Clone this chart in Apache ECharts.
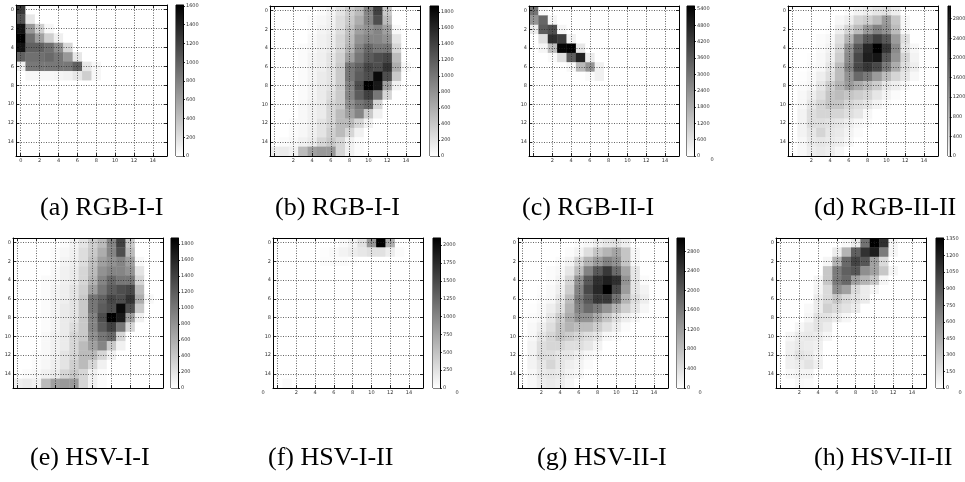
<!DOCTYPE html>
<html><head><meta charset="utf-8">
<script src="https://cdn.jsdelivr.net/npm/echarts@6/dist/echarts.min.js"></script>
<style>html,body{margin:0;padding:0;background:#fff}#c{width:965px;height:482px}</style>
</head><body><div id="c"></div>
<script>
// ---------- tick labels ----------
const gridTicks = [0,2,4,6,8,10,12,14];
const xLabelsFull = [0,2,4,6,8,10,12,14];
const xLabelsNoZero = [2,4,6,8,10,12,14];
const xLabelsNone = [];
const yLabels = [0,2,4,6,8,10,12,14];
const cbTicksA = [0,200,400,600,800,1000,1200,1400,1600];
const cbTicksB = [0,200,400,600,800,1000,1200,1400,1600,1800];
const cbTicksC = [0,600,1200,1800,2400,3000,3600,4200,4800,5400];
const cbTicksD = [0,400,800,1200,1600,2000,2400,2800];
const cbTicksE = [0,200,400,600,800,1000,1200,1400,1600,1800];
const cbTicksF = [0,250,500,750,1000,1250,1500,1750,2000];
const cbTicksG = [0,400,800,1200,1600,2000,2400,2800];
const cbTicksH = [0,150,300,450,600,750,900,1050,1200,1350];
const colorMax = [1610, 1875, 5510, 3060, 1875, 2100, 3080, 1360];
const captions = ['(a) RGB-I-I','(b) RGB-I-I','(c) RGB-II-I','(d) RGB-II-II','(e) HSV-I-I','(f) HSV-I-II','(g) HSV-II-I','(h) HSV-II-II'];

// ---------- histogram values (row = y bin 0..15, column = x bin 0..15) ----------
const histA = [
 [1250,0,0,0,0,0,0,0,0,0,0,0,0,0,0,0],
 [1100,150,0,0,0,0,0,0,0,0,0,0,0,0,0,0],
 [1500,650,300,50,0,0,0,0,0,0,0,0,0,0,0,0],
 [1610,900,600,300,100,0,0,0,0,0,0,0,0,0,0,0],
 [1500,1000,1000,900,700,250,0,0,0,0,0,0,0,0,0,0],
 [1000,900,900,950,850,650,150,0,0,0,0,0,0,0,0,0],
 [100,850,850,850,850,850,1000,150,50,0,0,0,0,0,0,0],
 [0,50,50,50,60,80,150,300,50,0,0,0,0,0,0,0],
 [0,0,0,0,0,0,0,0,0,0,0,0,0,0,0,0],
 [0,0,0,0,0,0,0,0,0,0,0,0,0,0,0,0],
 [0,0,0,0,0,0,0,0,0,0,0,0,0,0,0,0],
 [0,0,0,0,0,0,0,0,0,0,0,0,0,0,0,0],
 [0,0,0,0,0,0,0,0,0,0,0,0,0,0,0,0],
 [0,0,0,0,0,0,0,0,0,0,0,0,0,0,0,0],
 [0,0,0,0,0,0,0,0,0,0,0,0,0,0,0,0],
 [0,0,0,0,0,0,0,0,0,0,0,0,0,0,0,0]
];
const histB = [
 [0,0,0,0,0,30,80,200,350,500,900,1400,400,0,0,0],
 [0,0,0,0,30,60,100,250,400,600,900,1300,500,0,0,0],
 [0,0,0,0,30,80,120,250,450,700,800,900,700,50,0,0],
 [0,0,0,0,50,100,150,300,500,800,900,900,800,200,0,0],
 [0,0,0,30,60,100,150,300,550,900,1100,1000,1000,300,0,0],
 [0,0,0,30,80,120,200,350,700,1000,1200,1300,1350,500,0,0],
 [0,0,0,30,80,120,200,400,1000,1150,1350,1300,1500,600,50,0],
 [0,0,0,30,80,150,200,400,1000,1200,1300,1800,1300,400,0,0],
 [0,0,0,30,80,150,200,400,900,1300,1875,1700,700,100,0,0],
 [0,0,0,30,80,150,250,400,900,1200,1400,1000,300,0,0,0],
 [0,0,0,50,100,150,300,400,800,1000,1100,300,0,0,0,0],
 [0,0,0,50,100,150,300,500,700,900,400,100,0,0,0,0],
 [0,0,30,50,100,200,300,500,500,300,100,0,0,0,0,0],
 [0,0,30,60,120,200,350,500,300,100,0,0,0,0,0,0],
 [0,30,50,100,150,300,400,300,100,30,0,0,0,0,0,0],
 [120,150,100,500,700,750,750,300,100,30,0,0,0,0,0,0]
];
const histC = [
 [3000,100,0,0,0,0,0,0,0,0,0,0,0,0,0,0],
 [2300,3300,200,0,0,0,0,0,0,0,0,0,0,0,0,0],
 [400,3500,3800,200,0,0,0,0,0,0,0,0,0,0,0,0],
 [0,700,4500,4200,250,0,0,0,0,0,0,0,0,0,0,0],
 [0,200,1400,5400,5510,500,0,0,0,0,0,0,0,0,0,0],
 [0,0,100,700,3500,4800,400,0,0,0,0,0,0,0,0,0],
 [0,0,0,0,150,1500,2300,300,0,0,0,0,0,0,0,0],
 [0,0,0,0,0,0,100,300,0,0,0,0,0,0,0,0],
 [0,0,0,0,0,0,0,0,0,0,0,0,0,0,0,0],
 [0,0,0,0,0,0,0,0,0,0,0,0,0,0,0,0],
 [0,0,0,0,0,0,0,0,0,0,0,0,0,0,0,0],
 [0,0,0,0,0,0,0,0,0,0,0,0,0,0,0,0],
 [0,0,0,0,0,0,0,0,0,0,0,0,0,0,0,0],
 [0,0,0,0,0,0,0,0,0,0,0,0,0,0,0,0],
 [0,0,0,0,0,0,0,0,0,0,0,0,0,0,0,0],
 [0,0,0,0,0,0,0,0,0,0,0,0,0,0,0,0]
];
const histD = [
 [0,0,0,0,0,0,50,150,200,300,350,200,0,0,0,0],
 [0,0,0,0,0,100,200,500,600,800,1200,700,100,0,0,0],
 [0,0,0,0,30,200,500,800,1200,1500,1300,800,100,0,0,0],
 [0,0,0,50,100,400,900,1600,2000,2300,2000,1200,400,0,0,0],
 [0,0,0,60,150,500,1300,2000,2600,3060,2400,1400,300,100,0,0],
 [0,0,30,80,200,600,1400,2200,2700,2800,2000,1300,500,150,0,0],
 [0,0,50,100,300,800,1500,2200,2400,2200,1600,1000,400,200,0,0],
 [0,30,80,200,400,800,1300,1800,1600,1200,800,500,300,100,0,0],
 [0,50,100,300,600,900,1200,1000,800,600,300,200,100,0,0,0],
 [0,80,200,400,700,800,700,600,500,300,150,50,0,0,0,0],
 [0,100,300,500,700,700,500,400,300,150,50,0,0,0,0,0],
 [0,150,400,500,500,500,400,300,100,0,0,0,0,0,0,0],
 [0,150,400,400,350,300,200,100,50,0,0,0,0,0,0,0],
 [0,150,300,500,300,250,150,50,0,0,0,0,0,0,0,0],
 [0,100,250,300,250,200,100,0,0,0,0,0,0,0,0,0],
 [0,80,200,250,200,100,0,0,0,0,0,0,0,0,0,0]
];
const histE = [
 [0,0,0,0,0,30,80,200,350,500,900,1400,400,0,0,0],
 [0,0,0,0,30,60,100,250,400,600,900,1300,500,0,0,0],
 [0,0,0,0,30,80,120,250,450,700,800,900,700,50,0,0],
 [0,0,0,0,50,100,150,300,500,800,900,900,800,200,0,0],
 [0,0,0,30,60,100,150,300,550,900,1100,1000,1000,300,0,0],
 [0,0,0,30,80,120,200,350,700,1000,1200,1300,1350,500,0,0],
 [0,0,0,30,80,120,200,400,1000,1150,1350,1300,1500,600,50,0],
 [0,0,0,30,80,150,200,400,1000,1200,1300,1800,1300,400,0,0],
 [0,0,0,30,80,150,200,400,900,1300,1875,1700,700,100,0,0],
 [0,0,0,30,80,150,250,400,900,1200,1400,1000,300,0,0,0],
 [0,0,0,50,100,150,300,400,800,1000,1100,300,0,0,0,0],
 [0,0,0,50,100,150,300,500,700,900,400,100,0,0,0,0],
 [0,0,30,50,100,200,300,500,500,300,100,0,0,0,0,0],
 [0,0,30,60,120,200,350,500,300,100,0,0,0,0,0,0],
 [0,30,50,100,150,300,400,300,100,30,0,0,0,0,0,0],
 [120,150,100,500,700,750,750,300,100,30,0,0,0,0,0,0]
];
const histF = [
 [0,0,0,0,0,0,0,50,100,250,850,2100,650,0,0,0],
 [0,0,0,0,0,20,50,100,150,200,250,250,150,30,0,0],
 [0,0,0,0,0,25,30,30,20,0,0,0,0,0,0,0],
 [0,0,0,0,0,0,0,0,0,0,0,0,0,0,0,0],
 [0,0,0,0,0,0,0,0,0,0,0,0,0,0,0,0],
 [0,0,0,0,0,0,0,0,0,0,0,0,0,0,0,0],
 [0,0,0,0,0,0,0,0,0,0,0,0,0,0,0,0],
 [0,0,0,0,0,0,0,0,0,0,0,0,0,0,0,0],
 [0,0,0,0,0,0,0,0,0,0,0,0,0,0,0,0],
 [0,0,0,0,0,0,0,0,0,0,0,0,0,0,0,0],
 [0,0,0,0,0,0,0,0,0,0,0,0,0,0,0,0],
 [0,0,0,0,0,0,0,0,0,0,0,0,0,0,0,0],
 [0,0,0,0,0,0,0,0,0,0,0,0,0,0,0,0],
 [0,0,0,0,0,0,0,0,0,0,0,0,0,0,0,0],
 [0,0,0,0,0,0,0,0,0,0,0,0,0,0,0,0],
 [0,40,0,0,0,0,0,0,0,0,0,0,0,0,0,0]
];
const histG = [
 [0,0,0,0,0,0,50,100,200,300,350,200,0,0,0,0],
 [0,0,0,0,0,50,150,400,700,900,1100,700,100,0,0,0],
 [0,0,0,0,50,150,500,900,1200,1500,1300,700,100,0,0,0],
 [0,0,0,50,100,300,800,1500,2000,2400,1800,1100,300,0,0,0],
 [0,0,0,50,150,500,1300,2000,2500,2700,2500,1300,300,50,0,0],
 [0,0,30,80,200,600,1500,2200,2600,3080,2200,1200,300,150,0,0],
 [0,0,50,100,300,800,1600,2000,2400,2400,1700,900,400,200,0,0],
 [0,30,80,200,400,900,1500,1800,1600,1300,900,600,300,100,0,0],
 [0,50,100,300,600,1000,1300,1300,1000,700,400,200,100,0,0,0],
 [0,80,200,400,700,900,800,800,600,400,200,50,0,0,0,0],
 [0,100,300,500,700,600,500,400,300,100,50,0,0,0,0,0],
 [0,150,400,500,500,400,400,300,150,0,0,0,0,0,0,0],
 [0,150,400,400,300,300,200,100,50,0,0,0,0,0,0,0],
 [0,150,300,500,300,200,150,50,0,0,0,0,0,0,0,0],
 [0,100,250,300,250,150,100,0,0,0,0,0,0,0,0,0],
 [0,80,200,250,200,100,0,0,0,0,0,0,0,0,0,0]
];
const histH = [
 [0,0,0,0,0,0,0,30,100,750,1360,1100,50,0,0,0],
 [0,0,0,0,0,0,100,400,850,1100,1200,700,50,0,0,0],
 [0,0,0,0,0,50,400,800,1000,900,500,200,0,0,0,0],
 [0,0,0,0,0,300,700,850,900,600,500,300,50,0,0,0],
 [0,0,0,0,50,300,700,800,500,400,300,50,0,0,0,0],
 [0,0,0,0,60,200,600,500,200,100,50,0,0,0,0,0],
 [0,0,0,0,100,200,300,200,150,100,0,0,0,0,0,0],
 [0,0,0,30,100,250,200,150,100,0,0,0,0,0,0,0],
 [0,0,0,50,150,150,100,50,0,0,0,0,0,0,0,0],
 [0,0,50,100,150,100,0,0,0,0,0,0,0,0,0,0],
 [0,50,100,120,100,50,0,0,0,0,0,0,0,0,0,0],
 [0,80,120,100,80,0,0,0,0,0,0,0,0,0,0,0],
 [0,80,150,120,60,0,0,0,0,0,0,0,0,0,0,0],
 [0,80,100,150,80,0,0,0,0,0,0,0,0,0,0,0],
 [0,40,60,60,0,0,0,0,0,0,0,0,0,0,0,0],
 [0,0,30,20,0,0,0,0,0,0,0,0,0,0,0,0]
];

// ---------- layout (pixels) ----------
const layout = [
 {hist:histA, cb:cbTicksA, xl:xLabelsFull,   g:[16,5,151,151],  c:[176,5,7,151],  t:[40,208]},
 {hist:histB, cb:cbTicksB, xl:xLabelsNoZero, g:[270,6,150,150], c:[430,6,8,150],  t:[275,208]},
 {hist:histC, cb:cbTicksC, xl:xLabelsNoZero, g:[529,6,150,150], c:[687,6,7,150],  t:[522,208]},
 {hist:histD, cb:cbTicksD, xl:xLabelsNoZero, g:[788,6,150,150], c:[948,6,7,150],  t:[814,208]},
 {hist:histE, cb:cbTicksE, xl:xLabelsNone,   g:[13,238,150,150], c:[171,238,7,150], t:[30,458]},
 {hist:histF, cb:cbTicksF, xl:xLabelsNoZero, g:[273,238,150,150],c:[433,238,7,150], t:[268,458]},
 {hist:histG, cb:cbTicksG, xl:xLabelsNoZero, g:[518,238,150,150],c:[677,238,7,150], t:[537,458]},
 {hist:histH, cb:cbTicksH, xl:xLabelsNoZero, g:[776,238,150,150],c:[936,238,7,150], t:[814,458]}
];
const strayZeros = [[712,160],[263,393],[457,393],[700,393],[960,393]];

const small = {fontSize:5, color:'#333', fontFamily:'DejaVu Sans'};
const plain = v => String(v);
const grids = [], xAxes = [], yAxes = [], series = [], visualMaps = [], graphics = [];

layout.forEach((p, i) => {
  grids.push({left:p.g[0], top:p.g[1], width:p.g[2], height:p.g[3], show:false});
  const base = {gridIndex:i, type:'value', min:-0.5, max:15.5, z:5};
  const line = {show:true, onZero:false, lineStyle:{color:'#000', width:1}};
  const tick = {show:true, inside:true, length:3, customValues:gridTicks, lineStyle:{color:'#000', width:0.8}};
  const split = {show:true, lineStyle:{type:[1,1.5], color:'#222', width:0.7}};
  xAxes.push(Object.assign({}, base, {position:'bottom', axisLine:line, axisTick:tick,
    axisLabel:Object.assign({show:p.xl.length>0, customValues:p.xl.length?p.xl:[0], margin:2, formatter:plain}, small), splitLine:split}));
  xAxes.push(Object.assign({}, base, {position:'top', axisLine:line, axisTick:tick, axisLabel:{show:false}, splitLine:{show:false}}));
  yAxes.push(Object.assign({}, base, {inverse:true, position:'left', axisLine:line, axisTick:tick,
    axisLabel:Object.assign({customValues:yLabels, margin:2, formatter:plain}, small), splitLine:split}));
  yAxes.push(Object.assign({}, base, {inverse:true, position:'right', axisLine:line, axisTick:tick, axisLabel:{show:false}, splitLine:{show:false}}));
  const data = [];
  p.hist.forEach((row, r) => row.forEach((v, c) => data.push([c, r, v])));
  series.push({
    type:'custom', xAxisIndex:2*i, yAxisIndex:2*i, clip:true, z:1, encode:{x:0, y:1},
    data:data,
    renderItem:(params, api) => {
      const x = api.value(0), y = api.value(1);
      const a = api.coord([x-0.5, y-0.5]), b = api.coord([x+0.5, y+0.5]);
      return {type:'rect', shape:{x:Math.min(a[0],b[0]), y:Math.min(a[1],b[1]),
        width:Math.abs(b[0]-a[0])+0.4, height:Math.abs(b[1]-a[1])+0.4},
        style:{fill:api.visual('color')}};
    }
  });
  visualMaps.push({type:'continuous', show:false, min:0, max:colorMax[i], dimension:2, seriesIndex:i,
    inRange:{color:['#ffffff','#000000']}});
  graphics.push({type:'text', x:p.t[0], y:p.t[1], style:{text:captions[i], font:'26px "Liberation Serif"', fill:'#000', verticalAlign:'middle'}});
});

layout.forEach((p, i) => {
  const gi = 8 + i;
  grids.push({left:p.c[0], top:p.c[1], width:p.c[2], height:p.c[3], show:true, borderColor:'#000', borderWidth:1});
  xAxes.push({gridIndex:gi, type:'category', data:[''], show:false});
  yAxes.push({gridIndex:gi, type:'value', min:0, max:colorMax[i], position:'right', z:5,
    axisLine:{show:true, lineStyle:{color:'#000'}},
    axisTick:{show:true, length:2, customValues:p.cb, lineStyle:{color:'#000', width:0.8}},
    axisLabel:Object.assign({customValues:p.cb, margin:3, formatter:plain}, small), splitLine:{show:false}});
  series.push({type:'bar', xAxisIndex:16+i, yAxisIndex:16+i, barWidth:'100%', data:[colorMax[i]], silent:true,
    itemStyle:{color:new echarts.graphic.LinearGradient(0,0,0,1,[{offset:0,color:'#000'},{offset:1,color:'#fff'}])}});
});

strayZeros.forEach(s => graphics.push({type:'text', x:s[0], y:s[1], style:{text:'0', font:'5px "DejaVu Sans"', fill:'#333', align:'center', verticalAlign:'middle'}}));

const chart = echarts.init(document.getElementById('c'), null, {renderer:'canvas'});
chart.setOption({animation:false, backgroundColor:'#fff', grid:grids, xAxis:xAxes, yAxis:yAxes,
  visualMap:visualMaps, series:series, graphic:graphics});
</script></body></html>
